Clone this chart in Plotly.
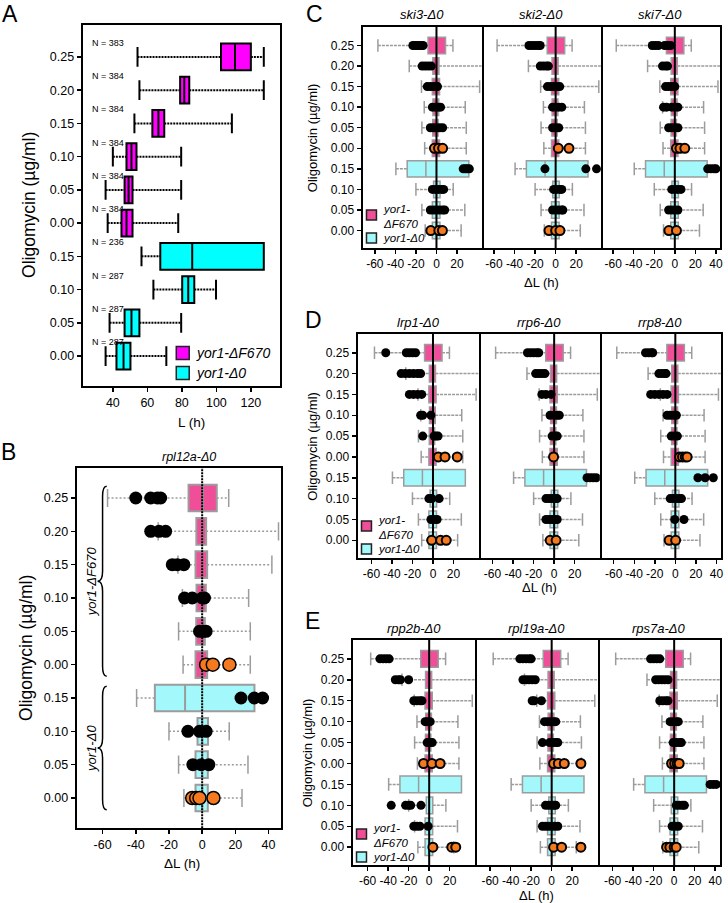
import plotly.graph_objects as go

W, H = 728, 903
FONT = "Liberation Sans, Arial, sans-serif"

# ---------------- data ----------------
conc_F670 = ["0.25", "0.20", "0.15", "0.10", "0.05", "0.00"]
conc_D0 = ["0.15", "0.10", "0.05", "0.00"]
row_labels = conc_F670 + conc_D0
legend_labels = ["yor1-ΔF670", "yor1-Δ0"]

# Panel A : lag L (h), rows top -> bottom
A_counts = [383, 384, 384, 384, 384, 384, 236, 287, 287, 287]
A_lower = [54.3, 55.4, 52.5, 40.0, 35.8, 37.0, 56.6, 63.5, 38.1, 35.8]
A_q1 = [102.7, 79.0, 62.9, 47.9, 46.8, 45.0, 67.5, 80.2, 46.8, 42.1]
A_median = [110.8, 81.4, 66.4, 50.8, 49.1, 47.9, 86.0, 83.7, 50.8, 46.2]
A_q3 = [120.0, 84.3, 69.8, 53.7, 51.4, 51.4, 127.5, 87.2, 55.4, 50.2]
A_upper = [127.5, 127.5, 109.0, 79.6, 79.6, 77.9, None, 99.8, 79.6, 71.0]
A_xticks = [40, 60, 80, 100, 120]

# Reference distribution of ΔL (h), rows top -> bottom
dL_lower = [-57.0, -26.5, -14.6, -11.9, -14.2, -11.5, -39.5, -20.0, -14.2, -11.0]
dL_q1 = [-8.2, -3.5, -4.0, -3.4, -3.6, -4.0, -28.5, -2.8, -4.0, -4.0]
dL_median = [0.5, 0.0, 0.0, 0.0, 0.0, 0.0, -10.3, 0.0, 0.0, 0.0]
dL_q3 = [8.8, 2.4, 3.0, 2.2, 1.6, 3.0, 31.5, 3.5, 3.4, 3.4]
dL_upper = [16.0, 46.0, 42.0, 28.0, 29.0, 29.0, None, 16.3, 27.6, 24.0]
B_xticks = [-60, -40, -20, 0, 20, 40]
CDE_xticks = [-60, -40, -20, 0, 20]
CDE_xticks_last = [-60, -40, -20, 0, 20, 40]

# Strain ΔL values per row (top -> bottom)
B_title = "rpl12a-Δ0"
rpl12a = [[-40, -31, -27, -25], [-31, -26, -22], [-18, -15, -11], [-10.6, -6, 0, 1.4],
          [-1.6, 0.5, 2.4], [2.4, 6.4, 16.4], [23.4, 31.4, 36.4], [-8.6, -1.6, 2.4],
          [-5.6, -0.6, 4], [-6, -3.6, -1.6, 6.8]]

C_titles = ["ski3-Δ0", "ski2-Δ0", "ski7-Δ0"]
ski3 = [[-23, -21, -19, -17, -15, -13], [-14, -11, -8, -5], [-9, -6, -3, 0, 1], [-4, -1, 2, 4],
        [-6, -3, 0, 3, 6], [-2, 2, 6], [26, 28, 30, 32], [-4, -1, 2, 5, 7],
        [-6, -3, 0, 3, 6, 8], [-5.5, 2.3, 5.8]]
ski2 = [[-26, -23, -20, -17, -15], [-15, -12, -9, -7], [-8, -5, -2, 1, 4], [-3, 0, 3, 6],
        [-3, 0, 3], [2.6, 13], [-10.4, 29.4, 39.8], [-2, 1, 4, 6],
        [-3, 0, 3, 6, 7], [-6.5, 0, 4.2]]
ski7 = [[-22, -19, -16, -10, -7, -4], [-12, -9, -7], [-9, -6, -3, 0], [-11, -8, -3, 0, 3],
        [-6, -3, 0, 3], [1.6, 5, 9.7], [32, 35, 38, 40], [-3, 0, 3, 6],
        [-6, -3, 0, 3], [-5.8, 1.6]]

D_titles = ["lrp1-Δ0", "rrp6-Δ0", "rrp8-Δ0"]
lrp1 = [[-46, -26, -23, -20, -17], [-31, -27, -23, -19, -15, -12], [-23, -19, -15, -11],
        [-12, -10, -2], [-10, 1, 3, 5], [5.2, 11.7, 23.6], [], [-4, -1, 6],
        [-2, 1, 4], [-1.3, 7.4, 12.9]]
rrp6 = [[-26, -23, -20, -17, -15], [-18, -15, -12, -9], [-12, -8, -3], [-4, 0, 3, 5],
        [-2, 1, 3], [-0.6], [32, 35, 38, 41], [-8, -5, -2, 1, 3],
        [-8, -5, -2, 1, 3], [-3.9, 1.9]]
rrp8 = [[-29, -26, -23, -22], [-16, -13, -10, -9], [-24, -20, -16, -12, -8], [-8, -5, -2, 1],
        [-4, -1, 2], [4.2, 7, 9.7, 11.5], [22, 29, 37], [-5, -2, 1, 4, 6],
        [-0.6, 8.4], [-6, 0.3]]

E_titles = ["rpp2b-Δ0", "rpl19a-Δ0", "rps7a-Δ0"]
rpp2b = [[-48, -45, -42, -39], [-33, -30, -28, -20], [-15, -12, -9, -7], [-4, -2, 1],
         [-2, 1, 3], [-5.5, 2.6, 10.7], [], [-37, -23, -20, -18, -8],
         [-15, -12, -9, -1], [3.6, 22, 25.9]]
rpl19a = [[-31, -28, -25, -22, -20], [-28, -25, -22, -19, -16], [-19, -17, -10],
          [-7, -4, -1, 2, 4], [-9, -2, 1, 4, 6], [1.9, 6.5, 12.3, 28.5], [],
          [-6, -3, 0, 2, 4], [-9, -6, -3, 0, 3, 6], [1.9, 9.7, 28.5]]
rps7a = [[-23, -20, -17, -14], [-18, -15, -12, -9, -6], [-14, -11, -8, -6], [-4, -1, 2, 4],
         [-1, 2, 5, 7], [-2.5, 0.5, 3, 4.9], [35, 38, 41], [2, 5, 8, 10],
         [-2, 1, 4], [-7.4, -4.2, 0, 2]]

# ---------------- style ----------------
MAGENTA = "#FF00FF"
CYAN = "#00FFFF"
PINK = "#F04E98"
LCYAN = "#A2F8FB"
GREY = "#9C9C9C"
ORANGE = "#F57A1F"

n_rows = len(row_labels)
positions = [n_rows - 1 - i for i in range(n_rows)]
idx_F = list(range(len(conc_F670)))
idx_D = list(range(len(conc_F670), n_rows))
control_rows = [idx_F[-1], idx_D[-1]]

fig = go.Figure()
layout = {}
annotations = []
shapes = []


def px_x(x):
    return x / W


def px_y(y):
    return 1 - y / H


def names(k):
    s = "" if k == 1 else str(k)
    return "x" + s, "y" + s, "xaxis" + s, "yaxis" + s


def setup_axes(k, xpx, ypx, xrange, yrange, xticks, ylabels, yside="left",
               ymirror=True, tick_size=12):
    xa, ya, xk, yk = names(k)
    layout[xk] = dict(domain=[px_x(xpx[0]), px_x(xpx[1])], anchor=ya, range=xrange,
                      tickmode="array", tickvals=xticks, ticktext=[str(t) for t in xticks],
                      ticks="outside", ticklen=4,
                      tickwidth=1.5, tickcolor="black", showline=True, mirror=True,
                      linewidth=2, linecolor="black", showgrid=False, zeroline=False,
                      tickangle=0, tickfont=dict(family=FONT, size=tick_size, color="black"))
    layout[yk] = dict(domain=[px_y(ypx[1]), px_y(ypx[0])], anchor=xa, range=yrange,
                      tickmode="array", tickvals=positions, ticktext=row_labels,
                      showticklabels=ylabels, ticks="outside" if ylabels else "",
                      ticklen=4, tickwidth=1.5, tickcolor="black", showline=True,
                      mirror=ymirror, side=yside, linewidth=2, linecolor="black",
                      showgrid=False, zeroline=False,
                      tickfont=dict(family=FONT, size=tick_size, color="black"))
    return xa, ya


def add_whiskers(xa, ya, lower, q1, q3, upper, color, width, dash, capsize, capw):
    xs, ys, cx, cy = [], [], [], []
    for i, p in enumerate(positions):
        if lower[i] is not None:
            xs += [lower[i], q1[i], None]
            ys += [p, p, None]
            cx.append(lower[i])
            cy.append(p)
        if upper[i] is not None:
            xs += [q3[i], upper[i], None]
            ys += [p, p, None]
            cx.append(upper[i])
            cy.append(p)
    fig.add_trace(go.Scatter(x=xs, y=ys, mode="lines", xaxis=xa, yaxis=ya,
                             line=dict(color=color, width=width, dash=dash),
                             showlegend=False, hoverinfo="skip"))
    fig.add_trace(go.Scatter(x=cx, y=cy, mode="markers", xaxis=xa, yaxis=ya,
                             marker=dict(symbol="line-ns", size=capsize,
                                         line=dict(color=color, width=capw)),
                             showlegend=False, hoverinfo="skip"))


def add_boxes(xa, ya, idxs, q1, med, q3, fill, line, lw):
    fig.add_trace(go.Box(orientation="h", y=[positions[i] for i in idxs],
                         q1=[q1[i] for i in idxs], median=[med[i] for i in idxs],
                         q3=[q3[i] for i in idxs], lowerfence=[q1[i] for i in idxs],
                         upperfence=[q3[i] for i in idxs], width=0.8, whiskerwidth=0,
                         fillcolor=fill, line=dict(color=line, width=lw),
                         boxpoints=False, xaxis=xa, yaxis=ya, showlegend=False,
                         hoverinfo="skip"))


def add_zero(xa, ya, yrange, dash, width):
    fig.add_trace(go.Scatter(x=[0, 0], y=[yrange[0] - 1, yrange[1] + 1], mode="lines",
                             xaxis=xa, yaxis=ya, line=dict(color="black", width=width, dash=dash),
                             showlegend=False, hoverinfo="skip"))


def add_dots(xa, ya, dots, size, olw):
    bx, by, ox, oy = [], [], [], []
    for i, vals in enumerate(dots):
        for v in vals:
            if i in control_rows:
                ox.append(v)
                oy.append(positions[i])
            else:
                bx.append(v)
                by.append(positions[i])
    fig.add_trace(go.Scatter(x=bx, y=by, mode="markers", xaxis=xa, yaxis=ya,
                             marker=dict(color="black", size=size, line=dict(width=0)),
                             showlegend=False, hoverinfo="skip"))
    fig.add_trace(go.Scatter(x=ox, y=oy, mode="markers", xaxis=xa, yaxis=ya,
                             marker=dict(color=ORANGE, size=size, line=dict(color="black", width=olw)),
                             showlegend=False, hoverinfo="skip"))


def text(t, x, y, size, angle=0, xanchor="center", yanchor="middle", xref="paper", yref="paper"):
    annotations.append(dict(text=t, x=x, y=y, xref=xref, yref=yref, showarrow=False,
                            textangle=angle, xanchor=xanchor, yanchor=yanchor, align="left",
                            font=dict(family=FONT, size=size, color="black")))


def text_px(t, x, y, size, angle=0, xanchor="center", yanchor="middle"):
    text(t, px_x(x), px_y(y), size, angle, xanchor, yanchor)


def legend_block(sq_x, y_pink, y_cyan, sq, size, split):
    for yc, col in ((y_pink, PINK if split else MAGENTA), (y_cyan, LCYAN if split else CYAN)):
        shapes.append(dict(type="rect", xref="paper", yref="paper",
                           x0=px_x(sq_x), x1=px_x(sq_x + sq), y0=px_y(yc + sq / 2), y1=px_y(yc - sq / 2),
                           fillcolor=col, line=dict(color="#222222", width=1.5)))
    tx = sq_x + sq + 5
    if split:
        a, b = legend_labels[0].split("-", 1)
        text_px("<i>" + a + "-<br>" + b + "</i>", tx, y_pink + 1, size, xanchor="left")
    else:
        text_px("<i>" + legend_labels[0] + "</i>", tx, y_pink, size, xanchor="left")
    text_px("<i>" + legend_labels[1] + "</i>", tx, y_cyan, size, xanchor="left")


# ---------------- Panel A ----------------
yA = [-0.9, 9.96]
xa, ya = setup_axes(1, (83, 281), (25, 386), [22.5, 136.8], yA, A_xticks, True, tick_size=12.5)
add_whiskers(xa, ya, A_lower, A_q1, A_q3, A_upper, "black", 2, "2px,1px", 14, 2)
add_boxes(xa, ya, idx_F, A_q1, A_median, A_q3, MAGENTA, "black", 2)
add_boxes(xa, ya, idx_D, A_q1, A_median, A_q3, CYAN, "black", 2)
for i, n in enumerate(A_counts):
    text("N = %d" % n, 26.6, positions[i] + 0.42, 9, xanchor="left", xref=xa, yref=ya)
legend_block(177, 353, 373, 13, 14, False)
text_px("A", 10, 14, 23)
text_px("Oligomycin (µg/ml)", 29, 205, 17.5, angle=-90)
text_px("L (h)", 192, 422, 13.5)

# ---------------- Panel B ----------------
yB = [-0.9, 9.9]
xb, yb = setup_axes(2, (77, 282), (468, 828), [-75.6, 47.4], yB, B_xticks, True, tick_size=12.5)
add_whiskers(xb, yb, dL_lower, dL_q1, dL_q3, dL_upper, GREY, 1.5, "2px,2px", 13, 1.5)
add_boxes(xb, yb, idx_F, dL_q1, dL_median, dL_q3, PINK, GREY, 2)
add_boxes(xb, yb, idx_D, dL_q1, dL_median, dL_q3, LCYAN, GREY, 2)
add_zero(xb, yb, yB, "2px,1px", 2)
add_dots(xb, yb, rpl12a, 13, 1.5)
text_px("B", 9, 452, 23)
text_px("<i>" + B_title + "</i>", 190, 457, 12.5)
text_px("Oligomycin (µg/ml)", 26, 648, 17.5, angle=-90)
text_px("ΔL (h)", 183, 863, 13.5)
# braces grouping the two strains
for grp, label in ((idx_F, legend_labels[0]), (idx_D, legend_labels[1])):
    top = positions[grp[0]] + 0.35
    bot = positions[grp[-1]] - 0.35
    mid = (top + bot) / 2
    path = ("M -57.5,{t} Q -60,{t} -60,{t2} L -60,{m1} Q -60,{m} -63,{m} "
            "Q -60,{m} -60,{m2} L -60,{b2} Q -60,{b} -57.5,{b}").format(
        t=top, t2=top - 0.3, m1=mid + 0.3, m=mid, m2=mid - 0.3, b2=bot + 0.3, b=bot)
    shapes.append(dict(type="path", xref=xb, yref=yb, path=path,
                       line=dict(color="black", width=1.5)))
    text("<i>" + label + "</i>", -67, mid, 13, angle=-90, xref=xb, yref=yb)

# ---------------- Panels C, D, E ----------------
yCDE = [-0.85, 9.9]
panel_specs = [
    ("C", (364, 723), (27, 248), [-72, 44], C_titles, [ski3, ski2, ski7],
     (316, 14), 314, 282, 15, (368, 215, 238)),
    ("D", (359, 724), (334, 558), [-73.5, 44.5], D_titles, [lrp1, rrp6, rrp8],
     (315, 320), 313, 587, 323, (363, 526, 549)),
    ("E", (354, 723), (640, 865), [-74.7, 44.7], E_titles, [rpp2b, rpl19a, rps7a],
     (314, 621), 309, 895, 628, (358, 834, 857)),
]
k = 3
for letter, xr, yr, xrange, titles, strains, lpos, ytx, xty, tty, leg in panel_specs:
    wsub = (xr[1] - xr[0]) / 3.0
    for j in range(3):
        x0 = xr[0] + j * wsub
        x1 = x0 + wsub
        if j == 0:
            xa_, ya_ = setup_axes(k, (x0, x1), yr, xrange, yCDE, CDE_xticks, True)
        else:
            xa_, ya_ = setup_axes(k, (x0, x1), yr, xrange, yCDE,
                                  CDE_xticks_last if j == 2 else CDE_xticks, False,
                                  yside="right", ymirror=False)
        add_whiskers(xa_, ya_, dL_lower, dL_q1, dL_q3, dL_upper, GREY, 1.5, "3px,1px", 9, 1.5)
        add_boxes(xa_, ya_, idx_F, dL_q1, dL_median, dL_q3, PINK, GREY, 1.5)
        add_boxes(xa_, ya_, idx_D, dL_q1, dL_median, dL_q3, LCYAN, GREY, 1.5)
        add_zero(xa_, ya_, yCDE, "solid", 2)
        add_dots(xa_, ya_, strains[j], 9, 2)
        text_px("<i>" + titles[j] + "</i>", (x0 + x1) / 2, tty, 13)
        k += 1
    text_px(letter, lpos[0], lpos[1], 23)
    text_px("Oligomycin (µg/ml)", ytx, (yr[0] + yr[1]) / 2, 13, angle=-90)
    text_px("ΔL (h)", (xr[0] + xr[1]) / 2, xty, 13)
    legend_block(leg[0], leg[1], leg[2], 10, 11.5, True)

fig.update_layout(width=W, height=H, margin=dict(l=0, r=0, t=0, b=0),
                  paper_bgcolor="white", plot_bgcolor="white", showlegend=False,
                  font=dict(family=FONT, color="black"),
                  annotations=annotations, shapes=shapes, **layout)
fig.write_html("out.html", config={"displayModeBar": False, "staticPlot": True},
               post_script="document.body.style.margin='0';document.body.style.overflow='hidden';")
